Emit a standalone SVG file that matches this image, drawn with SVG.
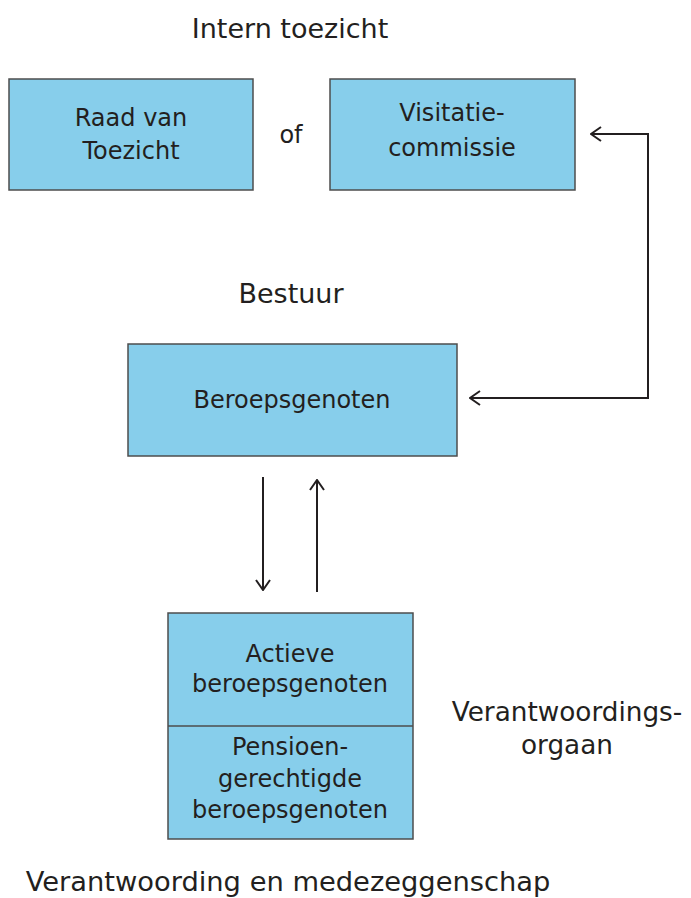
<svg xmlns="http://www.w3.org/2000/svg" width="691" height="898" viewBox="0 0 691 898">
<defs>
<style>
.box{fill:#87ceeb;stroke:#4d4d4d;stroke-width:1.5}
.t{font-family:"DejaVu Sans",Verdana,sans-serif;font-size:24px;fill:#231f20;text-anchor:middle}
.l{font-family:"DejaVu Sans",Verdana,sans-serif;font-size:27px;fill:#231f20;text-anchor:middle}
.c{fill:none;stroke:#231f20;stroke-width:2}
</style>
<marker id="ah" viewBox="0 0 12 16" refX="11" refY="8" markerWidth="12" markerHeight="16" markerUnits="userSpaceOnUse" orient="auto-start-reverse">
<path d="M1,1 L11,8 L1,15" fill="none" stroke="#231f20" stroke-width="2"/>
</marker>
</defs>
<rect width="691" height="898" fill="#fff"/>
<text class="l" x="290" y="38">Intern toezicht</text>
<g id="raad">
<rect class="box" x="9" y="79" width="244" height="111"/>
<text class="t" x="131" y="126">Raad van</text>
<text class="t" x="131" y="159">Toezicht</text>
</g>
<text class="t" x="291" y="143">of</text>
<g id="visitatie">
<rect class="box" x="330" y="79" width="245" height="111"/>
<text class="t" x="452" y="121">Visitatie-</text>
<text class="t" x="452" y="156">commissie</text>
</g>
<text class="l" x="291" y="303">Bestuur</text>
<g id="beroepsgenoten">
<rect class="box" x="128" y="344" width="329" height="112"/>
<text class="t" x="292" y="408">Beroepsgenoten</text>
</g>
<g id="verantwoordingsorgaan">
<rect class="box" x="168" y="613" width="245" height="226"/>
<line x1="168" y1="726" x2="413" y2="726" stroke="#4d4d4d" stroke-width="1.5"/>
<text class="t" x="290" y="662">Actieve</text>
<text class="t" x="290" y="692">beroepsgenoten</text>
<text class="t" x="290" y="755">Pensioen-</text>
<text class="t" x="290" y="787">gerechtigde</text>
<text class="t" x="290" y="818">beroepsgenoten</text>
<text class="l" x="567" y="721" style="font-size:26.3px">Verantwoordings-</text>
<text class="l" x="567" y="754" style="font-size:26.3px">orgaan</text>
</g>
<text class="l" x="288" y="891" style="font-size:27.3px">Verantwoording en medezeggenschap</text>
<g id="connectors">
<path class="c" d="M470,398 H648 V134 H591" marker-start="url(#ah)" marker-end="url(#ah)"/>
<line class="c" x1="263" y1="477" x2="263" y2="590" marker-end="url(#ah)"/>
<line class="c" x1="317" y1="592" x2="317" y2="480" marker-end="url(#ah)"/>
</g>
</svg>
